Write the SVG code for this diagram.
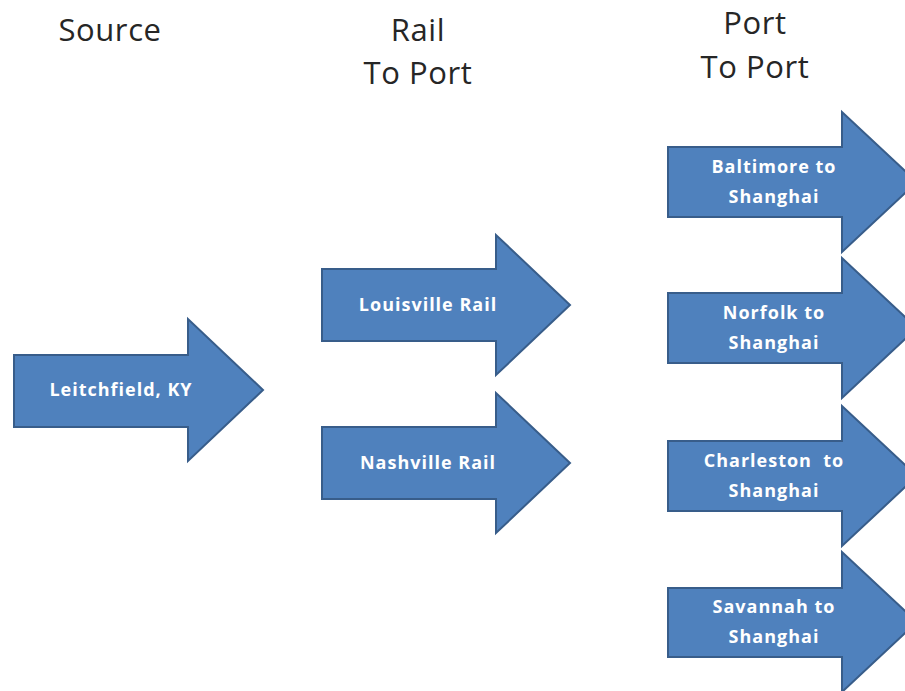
<svg xmlns="http://www.w3.org/2000/svg" width="905" height="691" viewBox="0 0 905 691">
<style>
.arr{fill:#4F81BD;stroke:#385D8A;stroke-width:2;stroke-linejoin:miter}
.lbl{font-family:"Open Sans","Liberation Sans",sans-serif;font-weight:bold;font-size:18px;letter-spacing:1px;fill:#FFFFFF;text-anchor:middle}
.hdr{font-family:"Open Sans","Liberation Sans",sans-serif;font-size:31px;letter-spacing:0.6px;fill:#262626;text-anchor:middle}
</style>
<rect width="905" height="691" fill="#FFFFFF"/>
<g id="headers">
<text class="hdr" x="110" y="41">Source</text>
<text class="hdr" x="418" y="41">Rail</text>
<text class="hdr" x="418" y="84">To Port</text>
<text class="hdr" x="755" y="34">Port</text>
<text class="hdr" x="755" y="78">To Port</text>
</g>
<g id="leitchfield">
<path class="arr" d="M14,355 H188 V319 L263,390 L188,461 V427 H14 Z"/>
<text class="lbl" x="121" y="396">Leitchfield, KY</text>
</g>
<g id="louisville">
<path class="arr" d="M322,269 H496 V235 L570,305 L496,375 V341 H322 Z"/>
<text class="lbl" x="428" y="311">Louisville Rail</text>
</g>
<g id="nashville">
<path class="arr" d="M322,427 H496 V393 L570,463 L496,533 V499 H322 Z"/>
<text class="lbl" x="428" y="469">Nashville Rail</text>
</g>
<g id="baltimore">
<path class="arr" d="M668,147 H842 V112 L917,182 L842,252 V217 H668 Z"/>
<text class="lbl" x="774" y="173">Baltimore to</text>
<text class="lbl" x="774" y="203">Shanghai</text>
</g>
<g id="norfolk">
<path class="arr" d="M668,293 H842 V258 L917,328 L842,398 V363 H668 Z"/>
<text class="lbl" x="774" y="319">Norfolk to</text>
<text class="lbl" x="774" y="349">Shanghai</text>
</g>
<g id="charleston">
<path class="arr" d="M668,441 H842 V406 L917,476 L842,546 V511 H668 Z"/>
<text class="lbl" x="774" y="467" xml:space="preserve">Charleston  to</text>
<text class="lbl" x="774" y="497">Shanghai</text>
</g>
<g id="savannah">
<path class="arr" d="M668,588 H842 V552 L917,622 L842,692 V657 H668 Z"/>
<text class="lbl" x="774" y="613">Savannah to</text>
<text class="lbl" x="774" y="643">Shanghai</text>
</g>
<g id="connectors"></g>
</svg>
